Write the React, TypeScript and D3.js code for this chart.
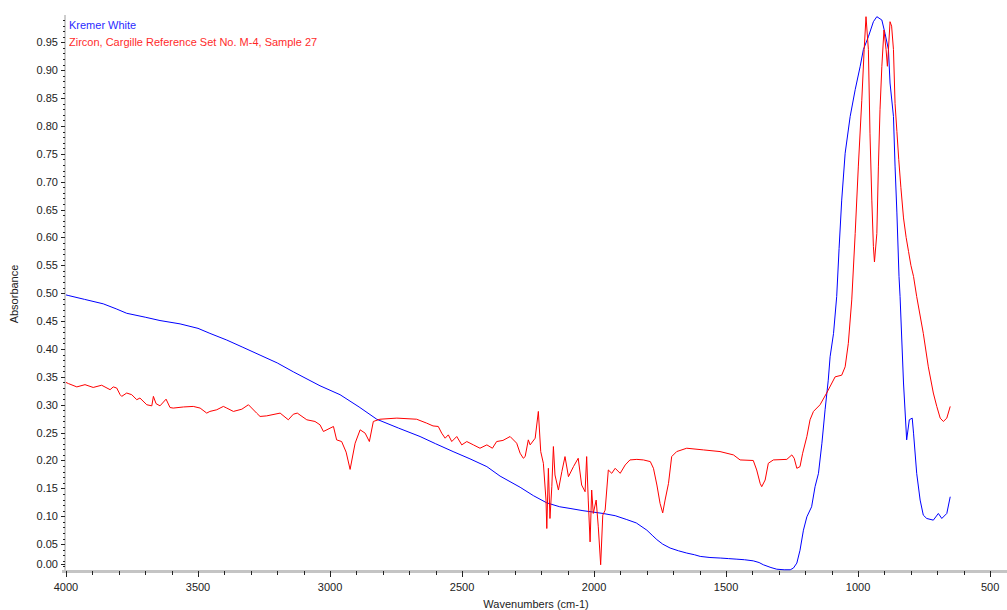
import React from "react";
import * as d3 from "d3";

// Kremer White spectrum (wavenumber cm-1, absorbance)
const kremerWn = [4000, 3992, 3930, 3859, 3810, 3770, 3700, 3644, 3568, 3500, 3455, 3391, 3330, 3265, 3200, 3139, 3038, 2962, 2890, 2823, 2740, 2659, 2600, 2534, 2470, 2406, 2356, 2280, 2230, 2179, 2130, 2091, 2042, 1966, 1920, 1876, 1840, 1800, 1780, 1762, 1740, 1712, 1680, 1649, 1620, 1598, 1561, 1520, 1490, 1459, 1430, 1397, 1375, 1359, 1330, 1308, 1280, 1257, 1245, 1232, 1220, 1207, 1194, 1176, 1163, 1150, 1137, 1125, 1113, 1106, 1093, 1081, 1072, 1062, 1049, 1030, 1011, 992, 980, 961, 942, 929, 910, 898, 885, 879, 866, 860, 853, 845, 841, 828, 816, 806, 795, 790, 778, 765, 753, 740, 715, 696, 683, 664, 651];
const kremerAbs = [0.497, 0.496, 0.489, 0.481, 0.472, 0.464, 0.457, 0.451, 0.445, 0.437, 0.428, 0.416, 0.403, 0.389, 0.375, 0.359, 0.334, 0.318, 0.296, 0.274, 0.258, 0.243, 0.230, 0.216, 0.203, 0.189, 0.172, 0.152, 0.137, 0.124, 0.117, 0.114, 0.110, 0.105, 0.101, 0.094, 0.088, 0.075, 0.066, 0.058, 0.050, 0.043, 0.038, 0.034, 0.031, 0.028, 0.026, 0.025, 0.024, 0.023, 0.022, 0.020, 0.017, 0.013, 0.008, 0.005, 0.004, 0.004, 0.007, 0.016, 0.039, 0.075, 0.099, 0.117, 0.153, 0.177, 0.231, 0.291, 0.344, 0.386, 0.428, 0.494, 0.580, 0.667, 0.751, 0.817, 0.865, 0.907, 0.937, 0.960, 0.987, 0.996, 0.990, 0.966, 0.937, 0.877, 0.817, 0.728, 0.644, 0.530, 0.494, 0.339, 0.237, 0.273, 0.276, 0.249, 0.177, 0.129, 0.102, 0.096, 0.093, 0.105, 0.096, 0.105, 0.135];

// Zircon, Cargille Reference Set No. M-4, Sample 27
const zirconWn = [4000, 3991, 3959, 3928, 3897, 3865, 3833, 3821, 3808, 3795, 3789, 3770, 3751, 3732, 3720, 3694, 3675, 3669, 3659, 3644, 3621, 3606, 3594, 3555, 3518, 3492, 3467, 3455, 3429, 3404, 3391, 3366, 3334, 3309, 3278, 3265, 3240, 3189, 3158, 3139, 3124, 3088, 3057, 3038, 3025, 2987, 2975, 2956, 2939, 2924, 2905, 2886, 2867, 2851, 2836, 2811, 2747, 2672, 2634, 2610, 2590, 2577, 2564, 2552, 2539, 2520, 2501, 2482, 2457, 2432, 2406, 2385, 2369, 2345, 2318, 2293, 2280, 2268, 2261, 2249, 2242, 2223, 2211, 2202, 2192, 2182, 2179, 2173, 2167, 2160, 2154, 2148, 2135, 2122, 2110, 2097, 2078, 2060, 2047, 2034, 2028, 2022, 2015, 2009, 2003, 1992, 1984, 1975, 1967, 1958, 1946, 1933, 1920, 1901, 1882, 1864, 1838, 1813, 1787, 1775, 1762, 1750, 1740, 1731, 1718, 1706, 1687, 1649, 1586, 1523, 1472, 1447, 1397, 1384, 1371, 1365, 1352, 1340, 1321, 1270, 1251, 1242, 1232, 1220, 1210, 1194, 1182, 1169, 1144, 1119, 1087, 1062, 1049, 1037, 1024, 1011, 999, 986, 977, 970, 961, 955, 948, 942, 938, 929, 923, 917, 910, 902, 894, 889, 885, 879, 873, 866, 860, 853, 846, 838, 828, 818, 809, 800, 790, 778, 753, 734, 715, 702, 689, 677, 664, 651];
const zirconAbs = [0.340, 0.338, 0.332, 0.336, 0.331, 0.335, 0.327, 0.332, 0.330, 0.318, 0.315, 0.321, 0.318, 0.309, 0.312, 0.300, 0.298, 0.315, 0.302, 0.298, 0.310, 0.295, 0.294, 0.296, 0.297, 0.294, 0.285, 0.288, 0.291, 0.297, 0.294, 0.288, 0.292, 0.300, 0.285, 0.279, 0.280, 0.285, 0.273, 0.283, 0.285, 0.273, 0.270, 0.264, 0.252, 0.261, 0.237, 0.234, 0.215, 0.184, 0.231, 0.255, 0.249, 0.234, 0.270, 0.274, 0.276, 0.274, 0.267, 0.262, 0.261, 0.249, 0.240, 0.246, 0.234, 0.243, 0.228, 0.234, 0.228, 0.222, 0.228, 0.222, 0.234, 0.236, 0.243, 0.231, 0.213, 0.204, 0.207, 0.237, 0.228, 0.240, 0.288, 0.216, 0.195, 0.129, 0.078, 0.186, 0.096, 0.153, 0.225, 0.174, 0.147, 0.180, 0.207, 0.171, 0.189, 0.204, 0.156, 0.144, 0.207, 0.129, 0.054, 0.147, 0.105, 0.129, 0.081, 0.013, 0.102, 0.111, 0.183, 0.177, 0.186, 0.177, 0.192, 0.201, 0.202, 0.201, 0.198, 0.186, 0.156, 0.123, 0.106, 0.129, 0.159, 0.207, 0.216, 0.222, 0.219, 0.216, 0.210, 0.201, 0.200, 0.183, 0.159, 0.153, 0.165, 0.195, 0.201, 0.202, 0.210, 0.204, 0.186, 0.189, 0.213, 0.243, 0.273, 0.288, 0.300, 0.321, 0.350, 0.353, 0.368, 0.410, 0.488, 0.607, 0.728, 0.846, 0.937, 0.996, 0.937, 0.787, 0.667, 0.584, 0.556, 0.607, 0.728, 0.829, 0.907, 0.972, 0.937, 0.907, 0.937, 0.987, 0.979, 0.937, 0.840, 0.790, 0.740, 0.690, 0.635, 0.600, 0.575, 0.550, 0.530, 0.494, 0.428, 0.368, 0.321, 0.297, 0.276, 0.270, 0.276, 0.297];

const xTickLabels = [4000, 3500, 3000, 2500, 2000, 1500, 1000, 500];
const yTickLabels = [0, 0.05, 0.1, 0.15, 0.2, 0.25, 0.3, 0.35, 0.4, 0.45, 0.5, 0.55, 0.6, 0.65, 0.7, 0.75, 0.8, 0.85, 0.9, 0.95];

const seriesNames = ["Kremer White", "Zircon, Cargille Reference Set No. M-4, Sample 27"];
const seriesColors = ["#0000ff", "#ff0000"];

const W = 1007;
const H = 610;
const left = 66;
const top = 15;
const bottom = 571;

export default function App() {
  const x = d3.scaleLinear().domain([4000, 436]).range([left, W]);
  const y = d3.scaleLinear().domain([0.0018, 0.999]).range([bottom, top]);

  const line = d3
    .line<[number, number]>()
    .x((d) => x(d[0]))
    .y((d) => y(d[1]));

  const kremer: [number, number][] = kremerWn.map((w, i) => [w, kremerAbs[i]]);
  const zircon: [number, number][] = zirconWn.map((w, i) => [w, zirconAbs[i]]);

  const xMinor = d3.range(4000, 400, -100).filter((v) => v % 500 !== 0);
  const yMinor = d3.range(1, 100).map((v) => v / 100).filter((v) => Math.round(v * 100) % 5 !== 0);

  const font = "'Liberation Sans', Arial, sans-serif";

  return (
    <svg
      width={W}
      height={H}
      style={{ position: "absolute", left: 0, top: 0, background: "#fff" }}
      fontFamily={font}
    >
      {/* y axis */}
      <line x1={left - 1} x2={left - 1} y1={top} y2={bottom} stroke="#9a9a9a" strokeWidth={1} />
      {yMinor.map((v) => (
        <line key={"ym" + v} x1={left - 3} x2={left - 1} y1={Math.round(y(v)) + 0.5} y2={Math.round(y(v)) + 0.5} stroke="#222" />
      ))}
      {yTickLabels.map((v) => {
        const yy = Math.min(Math.round(y(v)), 564);
        return (
          <g key={"yt" + v}>
            <line x1={left - 5} x2={left - 1} y1={yy + 0.5} y2={yy + 0.5} stroke="#222" />
            <text x={58} y={yy + 4} textAnchor="end" fontSize={11} fill="#222">
              {v.toFixed(2)}
            </text>
          </g>
        );
      })}

      {/* x axis */}
      <line x1={left - 4} x2={W} y1={bottom + 0.5} y2={bottom + 0.5} stroke="#c4c4c4" strokeWidth={3} />
      {xMinor.map((v) => (
        <line key={"xm" + v} x1={Math.round(x(v)) + 0.5} x2={Math.round(x(v)) + 0.5} y1={bottom} y2={bottom + 4} stroke="#222" />
      ))}
      {xTickLabels.map((v) => (
        <g key={"xt" + v}>
          <line x1={Math.round(x(v)) + 0.5} x2={Math.round(x(v)) + 0.5} y1={bottom} y2={bottom + 6} stroke="#222" />
          <text x={x(v)} y={591} textAnchor="middle" fontSize={11} fill="#222">
            {v}
          </text>
        </g>
      ))}

      {/* axis titles */}
      <text x={536} y={608} textAnchor="middle" fontSize={11} fill="#222">
        Wavenumbers (cm-1)
      </text>
      <text transform="translate(18,294) rotate(-90)" textAnchor="middle" fontSize={11} fill="#222">
        Absorbance
      </text>

      {/* spectra */}
      <path d={line(kremer) || ""} fill="none" stroke={seriesColors[0]} strokeWidth={1} />
      <path d={line(zircon) || ""} fill="none" stroke={seriesColors[1]} strokeWidth={1} />

      {/* legend */}
      {seriesNames.map((name, i) => (
        <text key={name} x={69} y={29 + i * 17} fontSize={11} fill={seriesColors[i]} opacity={0.85}>
          {name}
        </text>
      ))}
    </svg>
  );
}
